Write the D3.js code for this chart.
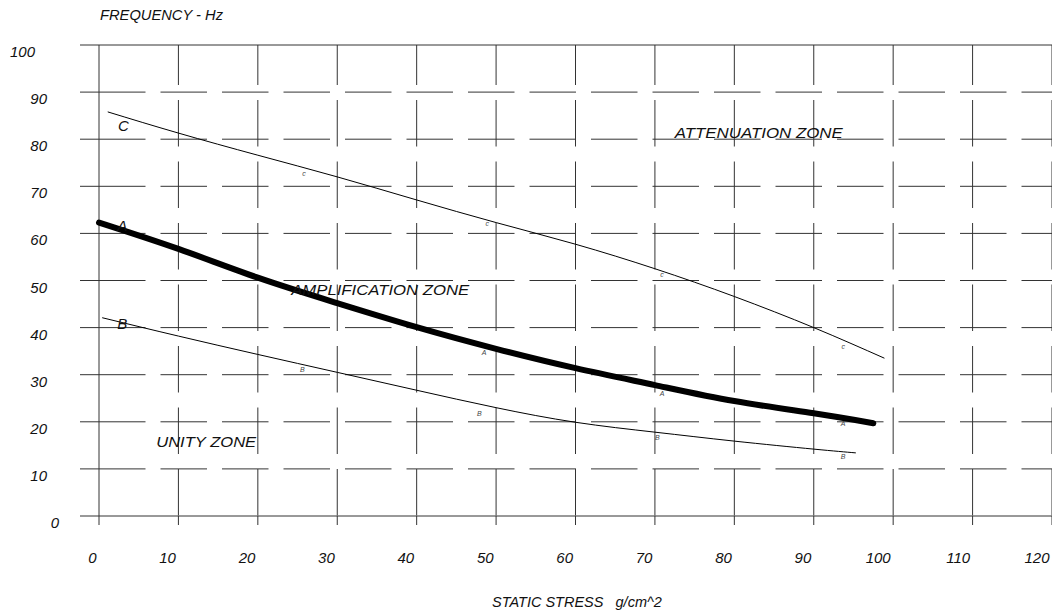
<!DOCTYPE html>
<html>
<head>
<meta charset="utf-8">
<script src="https://cdn.jsdelivr.net/npm/d3@7"></script>
<style>
  body { margin: 0; background: #fff; }
  text { font-family: 'Liberation Sans', Arial, sans-serif; font-style: italic; fill: #111; }
</style>
</head>
<body>
<div id="chart"></div>
<script>
// tick values
const xTicks = [0, 10, 20, 30, 40, 50, 60, 70, 80, 90, 100, 110, 120]
const yTicks = [0, 10, 20, 30, 40, 50, 60, 70, 80, 90, 100]

// curves: [static stress, frequency]
const curveA = [[0, 62.3], [10, 56.7], [20, 50.6], [30, 45.2], [40, 40.1], [50, 35.5],
  [60, 31.4], [70, 27.8], [80, 24.4], [90, 21.8], [97.5, 19.7]]
const curveB = [[0.4, 42.1], [10, 38.2], [20, 34.3], [30, 30.5], [40, 26.7], [50, 23.0],
  [60, 19.9], [70, 17.8], [80, 15.9], [90, 14.2], [95.3, 13.4]]
const curveC = [[1.1, 85.8], [10, 81.3], [20, 76.6], [30, 72.0], [40, 67.1], [50, 62.3],
  [60, 57.7], [70, 52.5], [80, 46.6], [90, 40.0], [98.9, 33.5]]

// big curve names and the small marker letters along the curves
const curveNames = [{ t: 'C', x: 2.4, y: 81.7 }, { t: 'A', x: 2.3, y: 60.5 }, { t: 'B', x: 2.3, y: 39.7 }]
const smallMarks = [
  { t: 'c', x: 25.8, y: 72.8 }, { t: 'c', x: 48.9, y: 62.0 }, { t: 'c', x: 70.9, y: 51.2 }, { t: 'c', x: 93.7, y: 35.9 },
  { t: 'A', x: 48.5, y: 34.8 }, { t: 'A', x: 70.9, y: 26.1 }, { t: 'A', x: 93.7, y: 19.7 },
  { t: 'B', x: 25.6, y: 31.2 }, { t: 'B', x: 47.9, y: 21.7 }, { t: 'B', x: 70.3, y: 16.6 }, { t: 'B', x: 93.7, y: 12.7 }
]
const zones = [
  { t: 'ATTENUATION ZONE', x: 72.5, y: 80.2, w: 168 },
  { t: 'AMPLIFICATION ZONE', x: 24.2, y: 46.9, w: 178 },
  { t: 'UNITY ZONE', x: 7.2, y: 14.6, w: 100 }
]

const width = 1052
const height = 614

const x = d3.scaleLinear().domain([0, 120]).range([99, 1052])
const y = d3.scaleLinear().domain([0, 100]).range([516, 45])

const svg = d3.select('#chart').append('svg')
  .attr('width', width)
  .attr('height', height)

const gridColor = '#333'
const dash = '46.5,15'

// horizontal grid lines + left ticks
const hg = svg.append('g')
yTicks.forEach((v) => {
  const solid = v === 0 || v === 100
  hg.append('line')
    .attr('x1', 80).attr('x2', x(0))
    .attr('y1', y(v)).attr('y2', y(v))
    .attr('stroke', gridColor)
  hg.append('line')
    .attr('x1', x(0)).attr('x2', width)
    .attr('y1', y(v)).attr('y2', y(v))
    .attr('stroke', gridColor)
    .attr('stroke-dasharray', solid ? null : dash)
})

// vertical grid lines + bottom ticks
const vg = svg.append('g')
xTicks.forEach((v) => {
  const solid = v === 0
  vg.append('line')
    .attr('x1', x(v)).attr('x2', x(v))
    .attr('y1', y(100)).attr('y2', y(0))
    .attr('stroke', gridColor)
    .attr('stroke-dasharray', solid ? null : dash)
    .attr('stroke-dashoffset', 6.5)
  vg.append('line')
    .attr('x1', x(v)).attr('x2', x(v))
    .attr('y1', y(0)).attr('y2', y(0) + 9)
    .attr('stroke', gridColor)
})

// tick labels
svg.append('g').selectAll('text')
  .data(yTicks)
  .join('text')
  .attr('x', (d) => 59 - 12 * (String(d).length - 1))
  .attr('y', (d) => y(d) + 12)
  .attr('text-anchor', 'end')
  .attr('font-size', 15)
  .text((d) => d)

svg.append('g').selectAll('text')
  .data(xTicks)
  .join('text')
  .attr('x', (d) => x(d) - 2.5)
  .attr('y', 563)
  .attr('text-anchor', 'end')
  .attr('font-size', 15)
  .text((d) => d)

// axis titles
svg.append('text')
  .attr('x', 100).attr('y', 20)
  .attr('font-size', 14)
  .attr('textLength', 123)
  .attr('lengthAdjust', 'spacingAndGlyphs')
  .text('FREQUENCY - Hz')

svg.append('text')
  .attr('x', 492).attr('y', 607)
  .attr('font-size', 14.5)
  .style('white-space', 'pre')
  .text('STATIC STRESS   g/cm^2')

// curves
const line = d3.line()
  .x((d) => x(d[0]))
  .y((d) => y(d[1]))
  .curve(d3.curveNatural)

svg.append('path')
  .attr('d', line(curveC))
  .attr('fill', 'none')
  .attr('stroke', '#000')
  .attr('stroke-width', 1)

svg.append('path')
  .attr('d', line(curveB))
  .attr('fill', 'none')
  .attr('stroke', '#000')
  .attr('stroke-width', 1)

svg.append('path')
  .attr('d', line(curveA))
  .attr('fill', 'none')
  .attr('stroke', '#000')
  .attr('stroke-width', 6)
  .attr('stroke-linecap', 'round')
  .attr('stroke-linejoin', 'round')

// labels
svg.append('g').selectAll('text')
  .data(curveNames)
  .join('text')
  .attr('x', (d) => x(d.x))
  .attr('y', (d) => y(d.y))
  .attr('font-size', 15)
  .text((d) => d.t)

svg.append('g').selectAll('text')
  .data(smallMarks)
  .join('text')
  .attr('x', (d) => x(d.x))
  .attr('y', (d) => y(d.y))
  .attr('text-anchor', 'middle')
  .attr('dominant-baseline', 'central')
  .attr('font-size', 7)
  .style('fill', '#444')
  .text((d) => d.t)

svg.append('g').selectAll('text')
  .data(zones)
  .join('text')
  .attr('x', (d) => x(d.x))
  .attr('y', (d) => y(d.y))
  .attr('font-size', 15)
  .attr('textLength', (d) => d.w)
  .attr('lengthAdjust', 'spacingAndGlyphs')
  .text((d) => d.t)
</script>
</body>
</html>
